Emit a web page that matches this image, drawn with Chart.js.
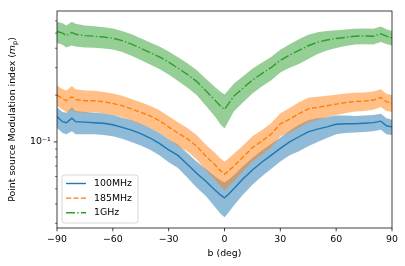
<!DOCTYPE html>
<html>
<head>
<meta charset="utf-8">
<script src="https://cdn.jsdelivr.net/npm/chart.js@4.4.1/dist/chart.umd.min.js"></script>
<style>
  html, body { margin: 0; padding: 0; background: #fff; }
</style>
</head>
<body>
<canvas id="chart" width="405" height="266"></canvas>
<script>
// Galactic latitude grid (deg)
const angles = [-90, -87, -85, -82, -80, -75, -70, -65, -60, -55, -50, -45, -40, -35, -30,
    -25, -20, -15, -10, -5, -2, 0, 2, 5, 10, 15, 20, 25, 30, 35,
    40, 45, 50, 55, 60, 65, 70, 75, 80, 84, 87, 90];

// 100MHz
const mean100 = [0.145, 0.135, 0.133, 0.142, 0.135, 0.134, 0.133, 0.132, 0.129, 0.124, 0.119, 0.113, 0.106, 0.098, 0.089,
    0.082, 0.072, 0.063, 0.056, 0.049, 0.0455, 0.0438, 0.046, 0.05, 0.058, 0.066, 0.074, 0.082, 0.091, 0.1,
    0.108, 0.116, 0.121, 0.125, 0.13, 0.131, 0.131, 0.132, 0.133, 0.136, 0.127, 0.125];
const std100 = [0.022, 0.021, 0.021, 0.025, 0.023, 0.022, 0.021, 0.021, 0.02, 0.019, 0.019, 0.018, 0.017, 0.016, 0.015,
    0.014, 0.013, 0.012, 0.011, 0.011, 0.011, 0.011, 0.011, 0.011, 0.012, 0.013, 0.014, 0.015, 0.016, 0.018,
    0.021, 0.022, 0.021, 0.019, 0.018, 0.017, 0.016, 0.016, 0.016, 0.016, 0.015, 0.014];

// 185MHz
const mean185 = [0.200, 0.19, 0.184, 0.195, 0.187, 0.184, 0.184, 0.181, 0.177, 0.171, 0.163, 0.155, 0.147, 0.137, 0.125,
    0.114, 0.105, 0.094, 0.081, 0.071, 0.065, 0.062, 0.065, 0.07, 0.08, 0.092, 0.101, 0.112, 0.131, 0.14,
    0.152, 0.163, 0.167, 0.171, 0.175, 0.179, 0.182, 0.183, 0.186, 0.193, 0.181, 0.178];
const std185 = [0.03, 0.029, 0.029, 0.034, 0.031, 0.03, 0.029, 0.028, 0.028, 0.027, 0.026, 0.025, 0.024, 0.023, 0.021,
    0.02, 0.018, 0.017, 0.015, 0.014, 0.013, 0.013, 0.013, 0.014, 0.015, 0.017, 0.018, 0.02, 0.022, 0.025,
    0.028, 0.029, 0.028, 0.027, 0.026, 0.026, 0.025, 0.025, 0.025, 0.025, 0.023, 0.022];

// 1GHz
const mean1G = [0.513, 0.50, 0.482, 0.505, 0.492, 0.482, 0.478, 0.472, 0.464, 0.448, 0.425, 0.40, 0.375, 0.352, 0.326,
    0.298, 0.272, 0.245, 0.213, 0.185, 0.169, 0.162, 0.175, 0.197, 0.222, 0.25, 0.275, 0.30, 0.335, 0.362,
    0.387, 0.415, 0.437, 0.452, 0.462, 0.47, 0.478, 0.48, 0.478, 0.495, 0.478, 0.466];
const std1G = [0.08, 0.078, 0.078, 0.088, 0.082, 0.078, 0.075, 0.073, 0.071, 0.069, 0.067, 0.064, 0.061, 0.058, 0.055,
    0.052, 0.048, 0.045, 0.042, 0.04, 0.04, 0.04, 0.04, 0.04, 0.042, 0.045, 0.048, 0.052, 0.056, 0.062,
    0.07, 0.074, 0.07, 0.065, 0.06, 0.057, 0.055, 0.055, 0.055, 0.056, 0.052, 0.05];

const seriesLabels = ['100MHz', '185MHz', '1GHz'];
const xTicks = [-90, -60, -30, 0, 30, 60, 90];
const yMajorTicks = [0.1];
const yMinorTicks = [0.03, 0.04, 0.05, 0.06, 0.07, 0.08, 0.09, 0.2, 0.3, 0.4, 0.5, 0.6];

const colors = ['#1f77b4', '#ff7f0e', '#2ca02c'];
const bandColors = ['rgba(31,119,180,0.5)', 'rgba(255,127,14,0.5)', 'rgba(44,160,44,0.5)'];
const dashes = [[], [5.2, 2.25], [9, 2.25, 1.4, 2.25]];
const FONT = 'DejaVu Sans';
const FS = 9.4;

function points(mean, std, sign) {
    return angles.map((a, i) => ({ x: a, y: mean[i] + sign * std[i] }));
}

const means = [mean100, mean185, mean1G];
const stds = [std100, std185, std1G];

const datasets = [];
// bands: lower + upper pairs
means.forEach((m, k) => {
    datasets.push({
        data: points(m, stds[k], -1),
        borderColor: 'transparent', borderWidth: 0, pointRadius: 0,
        fill: false, order: 30 - k * 10
    });
    datasets.push({
        data: points(m, stds[k], 1),
        borderColor: 'transparent', borderWidth: 0, pointRadius: 0,
        backgroundColor: bandColors[k],
        fill: { target: datasets.length - 1 }, order: 30 - k * 10
    });
});
// mean lines on top
means.forEach((m, k) => {
    datasets.push({
        label: seriesLabels[k],
        data: points(m, stds[k], 0),
        borderColor: colors[k], borderWidth: 1.4, borderDash: dashes[k],
        pointRadius: 0, fill: false, tension: 0, order: 2 - k
    });
});

const decor = {
    id: 'decor',
    afterDraw(chart) {
        const ctx = chart.ctx;
        const a = chart.chartArea;
        const xs = chart.scales.x, ys = chart.scales.y;
        ctx.save();
        // frame
        ctx.strokeStyle = '#000';
        ctx.lineWidth = 0.75;
        ctx.strokeRect(a.left, a.top, a.right - a.left, a.bottom - a.top);
        // x ticks
        ctx.beginPath();
        xTicks.forEach(v => {
            const px = xs.getPixelForValue(v);
            ctx.moveTo(px, a.bottom);
            ctx.lineTo(px, a.bottom + 3.3);
        });
        yMajorTicks.forEach(v => {
            const py = ys.getPixelForValue(v);
            ctx.moveTo(a.left, py);
            ctx.lineTo(a.left - 3.3, py);
        });
        ctx.stroke();
        ctx.lineWidth = 0.6;
        ctx.beginPath();
        yMinorTicks.forEach(v => {
            const py = ys.getPixelForValue(v);
            ctx.moveTo(a.left, py);
            ctx.lineTo(a.left - 1.9, py);
        });
        ctx.stroke();

        // y title with italic m and subscript p
        ctx.fillStyle = '#000';
        ctx.textBaseline = 'middle';
        const f1 = FS + 'px "' + FONT + '"';
        const fi = 'italic ' + FS + 'px "' + FONT + '"';
        const fs = (FS * 0.7) + 'px "' + FONT + '"';
        const p1 = 'Point source Modulation index (';
        ctx.font = f1; const w1 = ctx.measureText(p1).width; const w4 = ctx.measureText(')').width;
        ctx.font = fi; const w2 = ctx.measureText('m').width;
        ctx.font = fs; const w3 = ctx.measureText('p').width;
        const total = w1 + w2 + w3 + w4;
        ctx.translate(13, (a.top + a.bottom) / 2);
        ctx.rotate(-Math.PI / 2);
        let cx = -total / 2;
        ctx.textAlign = 'left';
        ctx.font = f1; ctx.fillText(p1, cx, 0); cx += w1;
        ctx.font = fi; ctx.fillText('m', cx, 0); cx += w2;
        ctx.font = fs; ctx.fillText('p', cx, 2.5); cx += w3;
        ctx.font = f1; ctx.fillText(')', cx, 0);
        ctx.restore();

        // legend
        ctx.save();
        const lx = 62, ly = 175, lw = 76, lh = 48, r = 2.5;
        ctx.beginPath();
        ctx.moveTo(lx + r, ly);
        ctx.arcTo(lx + lw, ly, lx + lw, ly + lh, r);
        ctx.arcTo(lx + lw, ly + lh, lx, ly + lh, r);
        ctx.arcTo(lx, ly + lh, lx, ly, r);
        ctx.arcTo(lx, ly, lx + lw, ly, r);
        ctx.closePath();
        ctx.fillStyle = 'rgba(255,255,255,0.8)';
        ctx.fill();
        ctx.strokeStyle = '#cccccc';
        ctx.lineWidth = 0.8;
        ctx.stroke();
        ctx.font = FS + 'px "' + FONT + '"';
        ctx.textBaseline = 'middle';
        ctx.textAlign = 'left';
        seriesLabels.forEach((lab, k) => {
            const yy = 183.5 + k * 14.6;
            ctx.strokeStyle = colors[k];
            ctx.lineWidth = 1.4;
            ctx.setLineDash(dashes[k]);
            ctx.beginPath();
            ctx.moveTo(66, yy);
            ctx.lineTo(86, yy);
            ctx.stroke();
            ctx.setLineDash([]);
            ctx.fillStyle = '#000';
            ctx.fillText(lab, 94, yy);
        });
        ctx.restore();
    }
};

new Chart(document.getElementById('chart').getContext('2d'), {
    type: 'line',
    data: { datasets },
    options: {
        responsive: false,
        animation: false,
        devicePixelRatio: 1,
        layout: { padding: { top: 11, right: 13, left: 0, bottom: 0 } },
        plugins: { legend: { display: false }, tooltip: { enabled: false } },
        scales: {
            x: {
                type: 'linear', min: -90, max: 90,
                afterBuildTicks: s => { s.ticks = xTicks.map(v => ({ value: v })); },
                afterFit: s => { s.height = 38; },
                grid: { display: false, drawTicks: true, tickLength: 3.3 },
                border: { display: false },
                ticks: {
                    autoSkip: false, maxRotation: 0, padding: 3,
                    color: '#000', font: { family: FONT, size: FS },
                    callback: v => (v < 0 ? '\u2212' + Math.abs(v) : String(v))
                },
                title: {
                    display: true, text: 'b (deg)', color: '#000',
                    font: { family: FONT, size: FS }, padding: { top: 0, bottom: 7 }
                }
            },
            y: {
                type: 'logarithmic', min: 0.028, max: 0.694,
                afterBuildTicks: s => { s.ticks = yMajorTicks.concat(yMinorTicks).map(v => ({ value: v })); },
                afterFit: s => { s.width = 57; },
                grid: { display: false, drawTicks: true, tickLength: 3.3 },
                border: { display: false },
                ticks: {
                    autoSkip: false, padding: 3,
                    color: '#000', font: { family: FONT, size: FS },
                    callback: v => (Math.abs(v - 0.1) < 1e-9 ? '10\u207B\u00B9' : '')
                }
            }
        }
    },
    plugins: [decor]
});
</script>
</body>
</html>
